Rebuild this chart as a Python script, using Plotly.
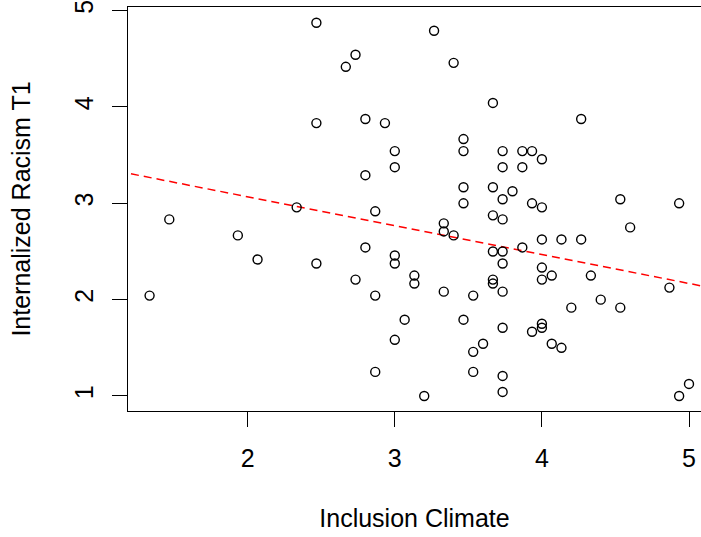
import plotly.graph_objects as go
import numpy as np

# Inclusion Climate (x) and Internalized Racism T1 (y)
inclusion = [
    2.467, 2.667, 2.467, 2.333, 3.267, 2.733, 3.400, 3.667, 2.800, 2.933,
    3.467, 3.467, 3.000, 3.733, 3.867, 3.933, 4.000, 3.000, 3.733, 3.867,
    2.800, 3.467, 3.667, 3.800, 3.733, 3.467, 2.867, 3.933, 4.000, 4.267,
    4.533, 4.933, 1.467, 1.333, 1.933, 2.067, 2.467, 3.667, 3.733, 3.333,
    3.333, 3.400, 3.867, 2.800, 3.667, 3.733, 3.000, 3.000, 3.733, 2.733,
    3.133, 3.133, 3.667, 3.667, 3.733, 2.867, 3.333, 3.533, 3.067, 3.467,
    3.733, 3.000, 3.600, 3.533, 2.867, 3.533, 3.733, 3.733, 3.200, 4.600,
    4.000, 4.133, 4.267, 4.000, 4.000, 4.067, 4.333, 4.867, 4.400, 4.200,
    4.533, 4.000, 4.000, 3.933, 4.067, 4.133, 5.000, 4.933,
]
racism = [
    4.875, 4.417, 3.833, 2.958, 4.792, 4.542, 4.458, 4.042, 3.875, 3.833,
    3.667, 3.542, 3.542, 3.542, 3.542, 3.542, 3.458, 3.375, 3.375, 3.375,
    3.292, 3.167, 3.167, 3.125, 3.042, 3.000, 2.917, 3.000, 2.958, 3.875,
    3.042, 3.000, 2.833, 2.042, 2.667, 2.417, 2.375, 2.875, 2.833, 2.792,
    2.708, 2.667, 2.542, 2.542, 2.500, 2.500, 2.458, 2.375, 2.375, 2.208,
    2.250, 2.167, 2.208, 2.167, 2.083, 2.042, 2.083, 2.042, 1.792, 1.792,
    1.708, 1.583, 1.542, 1.458, 1.250, 1.250, 1.208, 1.042, 1.000, 2.750,
    2.625, 2.625, 2.625, 2.333, 2.208, 2.250, 2.250, 2.125, 2.000, 1.917,
    1.917, 1.750, 1.708, 1.667, 1.542, 1.500, 1.125, 1.000,
]

# fitted regression line
fit_intercept = 3.668
fit_slope = -0.300

x_ticks = [2, 3, 4, 5]
y_ticks = [1, 2, 3, 4, 5]
x_title = "Inclusion Climate"
y_title = "Internalized Racism T1"

x_range = [1.1863, 5.0816]
y_range = [0.844, 5.038]

font_family = "Liberation Sans, Arial, sans-serif"

line_x = np.array([x_range[0] - 0.5, x_range[1] + 0.5])
line_y = fit_intercept + fit_slope * line_x

fig = go.Figure()
fig.add_trace(go.Scatter(
    x=line_x, y=line_y, mode="lines",
    line=dict(color="red", width=1.5, dash="8px,5px"),
    hoverinfo="skip", showlegend=False,
))
fig.add_trace(go.Scatter(
    x=inclusion, y=racism, mode="markers",
    marker=dict(symbol="circle-open", size=9, color="black",
                line=dict(width=1.4, color="black")),
    showlegend=False,
))

fig.update_layout(
    width=701, height=537,
    margin=dict(l=128, r=0, t=7, b=126, autoexpand=False),
    paper_bgcolor="white", plot_bgcolor="white",
    font=dict(family=font_family, size=25, color="black"),
    showlegend=False,
)
fig.update_xaxes(
    range=x_range, tickvals=x_ticks, ticktext=[str(v) for v in x_ticks],
    showgrid=False, zeroline=False, automargin=False,
    showline=True, linecolor="black", linewidth=1.2, mirror=True,
    ticks="outside", ticklen=15, tickwidth=1.2, tickcolor="black",
    ticklabelstandoff=10, ticklabeloverflow="allow",
    title=dict(text=x_title, standoff=38, font=dict(size=25)),
    tickfont=dict(size=25),
)
fig.update_yaxes(
    range=y_range, tickvals=y_ticks, ticktext=[str(v) for v in y_ticks],
    showgrid=False, zeroline=False, automargin=False,
    showline=True, linecolor="black", linewidth=1.2, mirror=False,
    ticks="outside", ticklen=15, tickwidth=1.2, tickcolor="black",
    tickangle=-90, ticklabelstandoff=9, ticklabeloverflow="allow",
    title=dict(text=y_title, standoff=32, font=dict(size=25)),
    tickfont=dict(size=25),
)

# remove the page's default body margin so the figure fills the window exactly
fig.write_html(
    "out.html",
    config={"displayModeBar": False},
    post_script="document.body.style.margin='0px';"
                "document.body.style.overflow='hidden';",
)
